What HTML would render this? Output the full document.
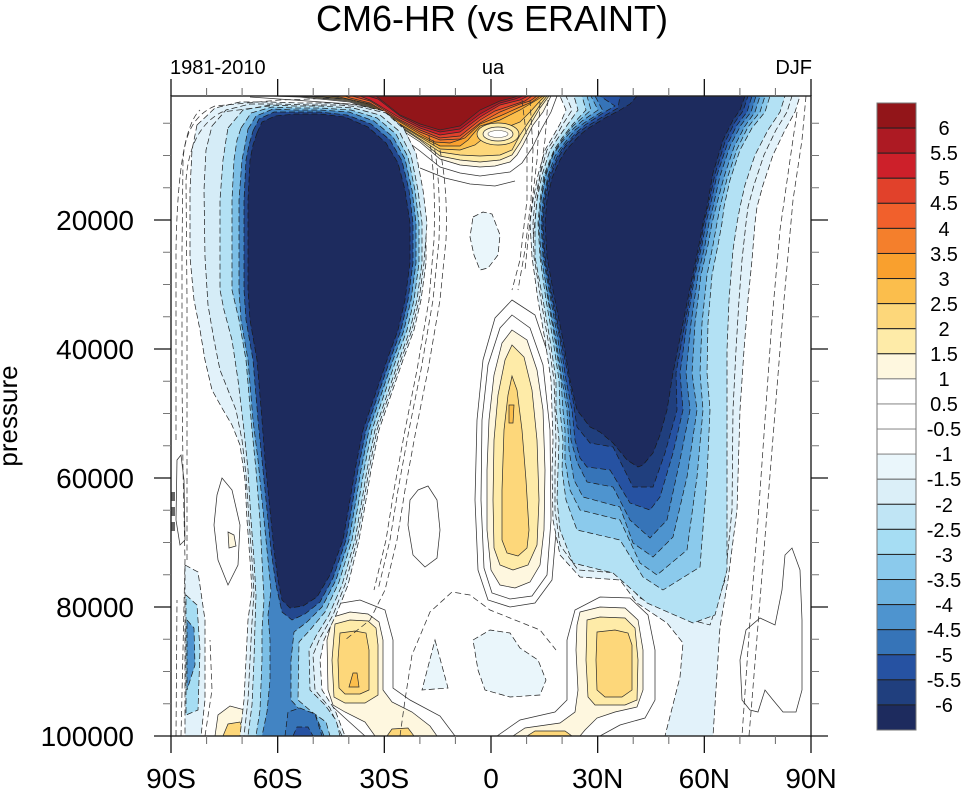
<!DOCTYPE html>
<html>
<head>
<meta charset="utf-8">
<style>
html,body{margin:0;padding:0;background:#fff;}
body{width:962px;height:798px;overflow:hidden;}
svg{display:block;}
text{font-family:"Liberation Sans",Arial,Helvetica,sans-serif;fill:#000;}
.n{stroke:#1a1a1a;stroke-width:0.7;stroke-dasharray:6 3;}
.p{stroke:#2a2a2a;stroke-width:0.7;}
.ln{fill:none;stroke:#333;stroke-width:0.75;stroke-dasharray:6 3.5;}
.lp{fill:none;stroke:#333;stroke-width:0.75;}
</style>
</head>
<body>
<svg width="962" height="798" viewBox="0 0 962 798" xmlns="http://www.w3.org/2000/svg">
<rect width="962" height="798" fill="#fff"/>
<defs><clipPath id="c"><rect x="171" y="96" width="640" height="640"/></clipPath></defs>

<g clip-path="url(#c)">
<rect x="171" y="96" width="640" height="640" fill="#fff"/>

<!-- top positive region -->
<path class="lp" d="M250,97 L350,104 L372,114 L400,136 L420,151 L440,167 L460,173 L480,176 L510,172 L522,163 L532,148 L542,128 L551,112 L557,96"/>
<path class="lp" d="M420,168 L445,178 L470,184 L495,186 L515,181"/>
<polygon class="p" fill="#FEF7DF" points="270,96 551,96 543,112 533,125 523,145 517,155 510,162 495,166 480,167 460,165 440,159 420,142 400,129 383,115 370,109 350,102 300,97"/>
<polygon class="p" fill="#FEEBA8" points="285,96 549,96 540,108 530,125 520,143 512,155 500,160 480,162 460,160 440,156 420,140 400,127 370,108 350,101 310,97"/>
<polygon class="p" fill="#FDD77A" points="300,96 547,96 540,105 530,120 520,135 512,150 500,155 480,156 460,155 440,152 420,139 400,126 370,107 350,100 320,97"/>
<polygon class="p" fill="#FBBE4C" points="312,96 545,96 540,101 530,112 520,122 505,128 490,133 475,145 460,150 440,149 420,137 400,125 370,106 350,99"/>
<polygon class="p" fill="#F9A02E" points="325,96 543,96 540,98 530,104 520,110 500,120 480,126 468,140 460,146 440,146 420,136 400,124 370,105 350,98"/>
<polygon class="p" fill="#F47F2C" points="335,96 540,96 532,102 520,107 500,116 480,124 465,138 450,143 435,142 420,134 400,122 370,104"/>
<polygon class="p" fill="#F1602C" points="345,96 537,96 530,101 520,104 500,112 480,123 460,139 440,140 420,132 400,121 370,103 350,98"/>
<polygon class="p" fill="#E1412B" points="352,96 532,96 525,101 510,106 495,111 480,120 460,136 440,138 420,130 400,120 370,101"/>
<polygon class="p" fill="#CD202A" points="360,96 528,96 520,100 500,105 480,117 460,132 440,135 420,128 400,118 370,100"/>
<polygon class="p" fill="#AD1A23" points="368,96 523,96 515,99 500,103 480,114 460,129 440,132 420,126 400,116 378,99"/>
<polygon class="p" fill="#921519" points="376,96 518,96 512,98 500,101 480,110 460,126 440,130 420,124 400,115 385,103"/>
<!-- eye -->
<ellipse class="p" cx="498" cy="134" rx="21" ry="11" fill="#FEEBA8"/>
<ellipse class="p" cx="498" cy="134" rx="15" ry="7" fill="#FEF7DF"/>
<ellipse cx="498" cy="134" rx="10" ry="3.5" fill="#fff" stroke="#555" stroke-width="0.6"/>

<!-- equatorial yellow column -->
<polygon class="lp" points="512,300 535,315 550,360 557,430 557,520 552,580 535,603 510,607 488,600 478,570 475,500 477,420 483,360 495,318"/>
<polygon class="lp" points="512,315 530,328 543,365 550,430 551,520 547,575 532,596 510,599 492,593 484,568 481,500 482,420 488,365 500,328"/>
<polygon class="p" fill="#FEF7DF" points="512,330 527,340 537,370 543,410 545,470 544,530 540,565 530,582 515,588 500,585 491,570 487,530 487,470 489,420 494,375 502,343"/>
<polygon class="p" fill="#FEEBA8" points="512,345 524,357 532,390 537,440 539,500 537,545 528,565 513,570 500,565 494,548 493,500 494,440 498,395 505,360"/>
<polygon class="p" fill="#FDD77A" points="512,376 517,390 522,430 526,480 529,530 527,548 518,556 507,553 502,540 502,490 504,430 508,395"/>
<polygon class="p" fill="#FBBE4C" points="509,405 514,405 513,423 509,423"/>

<!-- SH bottom blob -->
<path class="lp" d="M455,736 L440,716 L410,700 L393,688 L393,640 L385,610 L360,600 L330,605 L318,640 L320,695 L345,718 L365,736"/>
<polygon class="p" fill="#FEF7DF" points="333,617 350,612 368,614 379,622 383,640 383,690 392,702 412,712 430,726 437,736 375,736 365,722 345,712 333,705 328,690 327,640"/>
<polygon class="p" fill="#FEEBA8" points="335,624 350,620 368,621 376,628 378,645 378,695 365,703 345,703 334,697 332,660"/>
<polygon class="p" fill="#FDD77A" points="340,633 355,631 366,633 369,650 369,690 360,694 345,694 339,688 338,660"/>
<polygon class="p" fill="#FBBE4C" points="353,673 357,673 359,687 349,687"/>
<polygon class="p" fill="#FDD77A" points="387,736 392,729 408,728 414,736"/>

<!-- NH bottom blob -->
<path class="lp" d="M497,736 L520,720 L555,712 L567,700 L567,640 L575,610 L600,597 L630,598 L648,615 L655,650 L655,700 L645,718 L620,725 L600,736"/>
<polygon class="p" fill="#FEF7DF" points="580,612 600,607 625,608 638,620 643,650 643,690 637,707 615,712 597,718 585,730 580,736 513,736 525,728 560,723 575,712 578,690 576,650 577,625"/>
<polygon class="p" fill="#FEEBA8" points="587,620 600,617 625,618 635,628 638,660 637,700 625,705 595,705 588,697 586,660"/>
<polygon class="p" fill="#FDD77A" points="597,632 615,630 628,633 632,645 632,690 622,697 605,697 597,690 596,660"/>
<polygon class="p" fill="#FDD77A" points="527,736 535,731 565,731 572,736"/>

<!-- SH far left bottom yellow -->
<polygon class="p" fill="#FEF7DF" points="215,736 218,715 230,706 245,710 252,722 255,736"/>
<polygon class="p" fill="#FDD77A" points="223,736 228,724 240,722 245,736"/>

<!-- light blue patches -->
<polygon class="n" fill="#EAF6FB" points="473,217 483,212 492,214 500,235 498,255 488,268 480,270 474,255 470,237"/>
<polygon class="n" fill="#EAF6FB" points="435,640 448,688 422,690"/>
<polygon class="n" fill="#EAF6FB" points="473,640 490,630 510,633 520,648 538,660 546,680 540,695 510,697 485,690 478,670"/>

<!-- SH jet -->
<polygon class="n" fill="#E2F2FA" points="197,125 215,108 240,102 270,102 300,103 330,103 357,105 384,111 403,127 415,152 422,190 426,223 426,263 421,300 414,330 403,360 391,395 379,430 371,470 366,500 359,540 348,585 336,615 324,640 320,660 322,690 335,710 345,736 240,736 244,700 246,660 248,620 252,590 250,560 247,520 245,480 240,445 232,425 222,408 212,390 205,360 200,330 194,300 190,257 190,190 192,150"/>
<polygon class="n" fill="#D5ECF7" points="212,126 226,110 250,104 280,104 310,105 340,105 360,107 386,113 404,129 416,153 423,190 427,223 424,263 419,300 412,330 401,360 389,395 377,430 369,470 364,500 357,540 345,585 333,615 320,638 313,655 315,690 330,708 342,736 244,736 248,700 250,660 252,622 254,592 252,560 249,520 246,475 242,440 236,410 228,390 220,370 214,340 208,305 205,257 204,190 206,150"/>
<polygon class="n" fill="#B3E1F4" points="228,128 243,110 270,105 295,106 320,106 353,108 380,115 399,131 411,155 418,190 422,223 422,263 417,300 410,330 399,360 387,395 375,430 367,470 362,500 355,540 342,585 329,615 316,636 309,650 310,690 325,705 336,720 340,736 248,736 252,705 254,660 255,625 256,595 254,560 251,520 248,470 244,430 238,380 232,340 224,310 220,290 220,200 223,160 226,140"/>
<polygon class="n" fill="#7CBFE6" points="241,128 251,113 272,107 295,108 320,108 351,110 377,118 396,134 408,157 415,190 419,223 419,263 414,300 407,330 396,360 384,395 372,430 364,470 359,500 352,540 339,582 325,612 310,630 299,642 298,700 312,712 326,722 330,736 256,736 260,710 262,660 262,630 264,600 262,560 260,520 256,470 252,430 246,360 239,320 232,290 232,200 234,160 237,140"/>
<polygon class="n" fill="#4284C3" points="248,129 256,116 273,109 295,110 320,110 349,112 374,121 393,137 405,159 412,190 416,223 416,263 411,300 404,330 393,360 381,395 369,430 361,470 356,500 349,540 336,580 322,607 307,622 294,632 291,660 291,700 300,710 316,716 324,736 262,736 267,712 270,680 270,640 268,615 271,590 267,550 263,510 258,460 253,420 248,360 241,320 239,290 239,200 242,160 245,145"/>
<polygon class="n" fill="#3674B8" points="285,736 288,712 300,708 315,714 322,736"/>
<polygon class="n" fill="#2652A2" points="293,736 297,727 308,727 313,736"/>
<polygon class="n" fill="#23488F" points="253,131 259,119 274,112 295,112 320,112 347,115 371,124 390,140 402,161 409,190 413,223 413,263 408,300 401,330 390,360 378,395 366,430 358,470 353,500 346,540 333,578 320,602 305,614 292,620 282,612 276,585 271,550 267,510 262,460 258,420 253,360 246,320 244,290 244,200 246,160 249,145"/>
<polygon class="n" fill="#1D2B5E" points="257,133 262,122 275,116 295,114 320,114 345,117 368,127 386,143 398,163 405,190 410,223 410,263 405,300 398,330 387,360 375,395 363,430 355,470 350,500 343,540 330,575 317,597 303,606 290,608 282,600 278,580 274,550 270,510 265,460 262,420 257,360 250,320 248,290 248,200 250,160 253,145"/>

<!-- SH far left strip -->
<polygon class="n" fill="#E2F2FA" points="185,565 198,572 205,620 205,700 201,736 185,736"/>
<polygon class="n" fill="#A6DDF3" points="186,595 197,605 200,650 198,710 186,715"/>
<polygon class="n" fill="#4E94CF" points="187,620 194,628 195,665 187,690"/>

<!-- NH jet -->
<polygon class="n" fill="#E2F2FA" points="560,96 800,96 795,112 785,130 773,155 763,185 757,207 755,223 752,260 748,300 744,350 740,410 737,510 728,580 720,627 713,736 665,736 680,677 683,643 667,623 637,603 620,580 580,577 560,555 553,520 552,470 553,440 551,380 545,340 538,300 532,257 530,223 533,200 538,175 545,150 552,138 560,124 566,110"/>
<polygon class="n" fill="#DBEFF8" points="566,96 792,96 787,112 776,130 764,155 754,185 748,207 746,223 742,260 739,300 736,350 733,410 732,510 725,580 710,625 680,617 640,598 618,573 578,570 560,545 555,510 555,470 556,440 554,380 548,340 541,300 534,257 533,223 535,200 540,175 547,150 555,138 563,124 572,110"/>
<polygon class="n" fill="#B3E1F4" points="574,96 785,96 780,112 768,130 755,155 745,185 740,207 737,223 733,250 729,300 727,350 727,410 727,443 727,570 715,615 693,623 647,603 613,573 573,563 560,530 557,500 558,470 559,440 556,410 556,380 550,340 543,300 535,257 535,223 537,200 542,175 550,150 558,138 568,124 578,110"/>
<polygon class="n" fill="#8BCAEC" points="582,96 770,96 765,112 752,128 740,150 730,180 724,207 722,223 718,245 712,275 708,323 707,373 710,410 707,477 700,567 663,590 643,577 620,540 577,530 566,500 562,470 563,440 560,410 559,380 553,340 546,300 540,257 538,223 540,200 544,175 554,150 562,138 573,124 586,110"/>
<polygon class="n" fill="#6DB3E0" points="587,96 765,96 760,112 748,127 737,149 727,179 720,207 717,223 713,245 707,275 702,323 700,373 703,410 697,477 687,550 657,575 640,563 620,520 580,510 570,490 565,460 565,430 563,410 561,380 555,340 548,300 542,257 539,223 541,200 545,175 554,152 562,140 573,126 591,110"/>
<polygon class="n" fill="#4E94CF" points="591,96 760,96 755,112 745,126 734,147 724,177 716,207 712,223 708,245 701,275 695,323 692,373 697,410 687,477 673,537 653,557 633,543 620,507 583,497 574,480 569,450 567,410 562,380 556,340 547,290 541,257 539,223 541,200 546,175 553,155 561,143 573,129 582,121 598,110"/>
<polygon class="n" fill="#3674B8" points="595,96 756,96 751,112 741,125 730,146 720,176 713,207 709,223 705,245 698,275 691,323 686,373 690,410 680,460 667,520 650,538 630,520 613,487 587,482 577,462 571,440 569,410 564,380 558,340 549,290 543,257 541,223 543,200 548,176 555,156 563,145 575,130 584,123 603,111"/>
<polygon class="n" fill="#2652A2" points="600,96 752,96 747,112 737,125 727,145 717,175 710,207 706,223 702,245 695,275 687,323 680,373 683,410 673,453 660,497 650,510 630,503 610,470 587,467 580,458 575,440 572,410 566,380 560,340 550,290 544,257 542,223 544,200 549,176 557,157 564,146 577,132 585,125 603,113 615,106"/>
<polygon class="n" fill="#203F7E" points="620,96 748,96 743,111 735,122 725,142 715,174 708,207 704,223 701,242 694,274 685,323 676,373 677,410 665,453 653,487 633,487 613,447 590,443 577,427 573,400 567,370 561,340 551,290 545,257 543,223 545,200 550,177 558,158 565,147 578,133 586,127 604,116 618,108"/>
<polygon class="n" fill="#1D2B5E" points="637,96 745,96 740,110 733,120 723,140 713,173 707,207 703,223 700,240 693,273 683,323 673,373 667,410 660,435 653,453 643,465 638,467 627,460 613,443 600,432 590,427 577,410 570,380 563,340 553,290 547,257 545,223 547,200 552,178 560,160 567,149 580,135 587,129 605,118 620,110 630,104"/>

<!-- extra contour lines -->
<path class="ln" d="M181,736 L183,650 L185,560 L183,470 L182,380 L182,250 L183,160 Q186,118 215,106 L280,100 L340,98"/>
<path class="ln" d="M187,560 L187,300 L186,180 Q190,128 222,112 L270,106"/>
<path class="ln" d="M176,736 L177,600"/>
<path class="ln" d="M176,440 L176,250 Q178,130 200,110"/>
<path class="ln" d="M440,150 Q448,190 446,240 L440,300 L428,370 L416,430 L405,490 L397,540 L385,590 L370,620 L345,640"/>
<path class="ln" d="M433,140 Q441,180 439,240 L433,300 L421,370 L409,430 L398,490 L390,540 L378,590"/>
<path class="ln" d="M429,136 Q436,178 434,240 L429,300 L417,370 L405,430 L394,490 L386,540 L374,590"/>
<path class="ln" d="M400,736 L405,700 L412,655 L430,612 L452,592 L470,595 L490,610 L510,618 L540,630 L556,650"/>
<path class="ln" d="M806,96 L802,140 L793,200 L784,300 L776,400 L768,500 L760,600 L752,700 L749,736"/>
<path class="ln" d="M797,112 L790,160 L780,230 L772,320 L765,420 L758,520 L750,620 L742,736"/>
<path class="ln" d="M522,100 L527,140 L527,200 L520,260 L512,290"/>
<path class="ln" d="M530,100 L533,150 L531,200 L525,250 L518,290"/>
<path class="ln" d="M540,102 L537,160 L530,220 L525,270"/>
<path class="ln" d="M548,100 L545,140 L538,190 L533,240"/>
<path class="ln" d="M205,736 L212,690 L210,640"/>
<polygon class="lp" points="742,700 740,660 746,630 760,618 775,625 782,590 785,555 792,548 800,570 802,620 802,690 796,712 783,712 773,700 765,690 758,712 750,710"/>
<polygon class="lp" points="418,490 428,486 437,500 440,530 437,558 425,567 413,555 408,525 410,500"/>
<polygon class="lp" points="177,460 181,455 184,480 185,540 180,545 176,520"/>
<polygon class="lp" points="222,478 232,490 240,525 238,565 228,585 218,560 214,525 217,495"/>
<polygon class="p" fill="#FEF7DF" points="228,532 234,535 236,546 229,548"/>
<rect x="171" y="492" width="4" height="9" fill="#666"/>
<rect x="171" y="507" width="4" height="9" fill="#666"/>
<rect x="171" y="522" width="4" height="9" fill="#666"/>
</g>

<!-- frame -->
<rect x="171" y="96" width="640" height="640" fill="none" stroke="#222" stroke-width="1.4"/>

<!-- ticks major -->
<path stroke="#111" stroke-width="1.3" fill="none" d="
M154,220H171 M154,349H171 M154,478H171 M154,607H171 M154,736H171
M811,220H828 M811,349H828 M811,478H828 M811,607H828 M811,736H828
M171,79V96 M277.67,79V96 M384.33,79V96 M491,79V96 M597.67,79V96 M704.33,79V96 M811,79V96
M171,736V753 M277.67,736V753 M384.33,736V753 M491,736V753 M597.67,736V753 M704.33,736V753 M811,736V753"/>
<!-- ticks minor -->
<path stroke="#777" stroke-width="1.1" fill="none" d="
M163,123.25H171 M163,155.5H171 M163,187.75H171 M163,252.25H171 M163,284.5H171 M163,316.75H171 M163,381.25H171 M163,413.5H171 M163,445.75H171 M163,510.25H171 M163,542.5H171 M163,574.75H171 M163,639.25H171 M163,671.5H171 M163,703.75H171
M811,123.25H819 M811,155.5H819 M811,187.75H819 M811,252.25H819 M811,284.5H819 M811,316.75H819 M811,381.25H819 M811,413.5H819 M811,445.75H819 M811,510.25H819 M811,542.5H819 M811,574.75H819 M811,639.25H819 M811,671.5H819 M811,703.75H819
M206.56,88V96 M242.11,88V96 M313.22,88V96 M348.78,88V96 M419.89,88V96 M455.44,88V96 M526.56,88V96 M562.11,88V96 M633.22,88V96 M668.78,88V96 M739.89,88V96 M775.44,88V96
M206.56,736V744 M242.11,736V744 M313.22,736V744 M348.78,736V744 M419.89,736V744 M455.44,736V744 M526.56,736V744 M562.11,736V744 M633.22,736V744 M668.78,736V744 M739.89,736V744 M775.44,736V744"/>

<!-- titles -->
<text x="492" y="31" font-size="36" text-anchor="middle">CM6-HR (vs ERAINT)</text>
<text x="170" y="74" font-size="20">1981-2010</text>
<text x="493" y="74" font-size="20" text-anchor="middle">ua</text>
<text x="812" y="74" font-size="20" text-anchor="end">DJF</text>

<!-- y labels -->
<g font-size="28" text-anchor="end">
<text x="134" y="230">20000</text>
<text x="134" y="359">40000</text>
<text x="134" y="488">60000</text>
<text x="134" y="617">80000</text>
<text x="134" y="746">100000</text>
</g>
<text transform="translate(17,416) rotate(-90)" font-size="26" text-anchor="middle">pressure</text>

<!-- x labels -->
<g font-size="28" text-anchor="middle">
<text x="171" y="788">90S</text>
<text x="277.67" y="788">60S</text>
<text x="384.33" y="788">30S</text>
<text x="491" y="788">0</text>
<text x="597.67" y="788">30N</text>
<text x="704.33" y="788">60N</text>
<text x="811" y="788">90N</text>
</g>

<!-- colorbar -->
<g stroke="#222" stroke-width="1">
<rect x="877" y="103" width="39" height="25.08" fill="#921519"/>
<rect x="877" y="128.08" width="39" height="25.08" fill="#AD1A23"/>
<rect x="877" y="153.16" width="39" height="25.08" fill="#CD202A"/>
<rect x="877" y="178.24" width="39" height="25.08" fill="#E1412B"/>
<rect x="877" y="203.32" width="39" height="25.08" fill="#F1602C"/>
<rect x="877" y="228.4" width="39" height="25.08" fill="#F47F2C"/>
<rect x="877" y="253.48" width="39" height="25.08" fill="#F9A02E"/>
<rect x="877" y="278.56" width="39" height="25.08" fill="#FBBE4C"/>
<rect x="877" y="303.64" width="39" height="25.08" fill="#FDD77A"/>
<rect x="877" y="328.72" width="39" height="25.08" fill="#FEEBA8"/>
<rect x="877" y="353.8" width="39" height="25.08" fill="#FEF7DF"/>
<rect x="877" y="378.88" width="39" height="25.08" fill="#FFFFFF" stroke="#888"/>
<rect x="877" y="403.96" width="39" height="25.08" fill="#FFFFFF" stroke="#888"/>
<rect x="877" y="429.04" width="39" height="25.08" fill="#FFFFFF" stroke="#888"/>
<rect x="877" y="454.12" width="39" height="25.08" fill="#EAF6FB" stroke="#888"/>
<rect x="877" y="479.2" width="39" height="25.08" fill="#DBEFF8" stroke="#666"/>
<rect x="877" y="504.28" width="39" height="25.08" fill="#C0E5F5"/>
<rect x="877" y="529.36" width="39" height="25.08" fill="#A6DDF3"/>
<rect x="877" y="554.44" width="39" height="25.08" fill="#8BCAEC"/>
<rect x="877" y="579.52" width="39" height="25.08" fill="#6DB3E0"/>
<rect x="877" y="604.6" width="39" height="25.08" fill="#4E94CF"/>
<rect x="877" y="629.68" width="39" height="25.08" fill="#3674B8"/>
<rect x="877" y="654.76" width="39" height="25.08" fill="#2652A2"/>
<rect x="877" y="679.84" width="39" height="25.08" fill="#203F7E"/>
<rect x="877" y="704.92" width="39" height="25.08" fill="#1D2B5E"/>
</g>
<rect x="877" y="103" width="39" height="627" fill="none" stroke="#777" stroke-width="1"/>
<g font-size="20" text-anchor="middle">
<text x="944" y="135">6</text>
<text x="944" y="160">5.5</text>
<text x="944" y="185">5</text>
<text x="944" y="210">4.5</text>
<text x="944" y="236">4</text>
<text x="944" y="261">3.5</text>
<text x="944" y="286">3</text>
<text x="944" y="311">2.5</text>
<text x="944" y="336">2</text>
<text x="944" y="361">1.5</text>
<text x="944" y="386">1</text>
<text x="944" y="411">0.5</text>
<text x="944" y="436">-0.5</text>
<text x="944" y="461">-1</text>
<text x="944" y="486">-1.5</text>
<text x="944" y="512">-2</text>
<text x="944" y="537">-2.5</text>
<text x="944" y="562">-3</text>
<text x="944" y="587">-3.5</text>
<text x="944" y="612">-4</text>
<text x="944" y="637">-4.5</text>
<text x="944" y="662">-5</text>
<text x="944" y="687">-5.5</text>
<text x="944" y="712">-6</text>
</g>
</svg>
</body>
</html>
